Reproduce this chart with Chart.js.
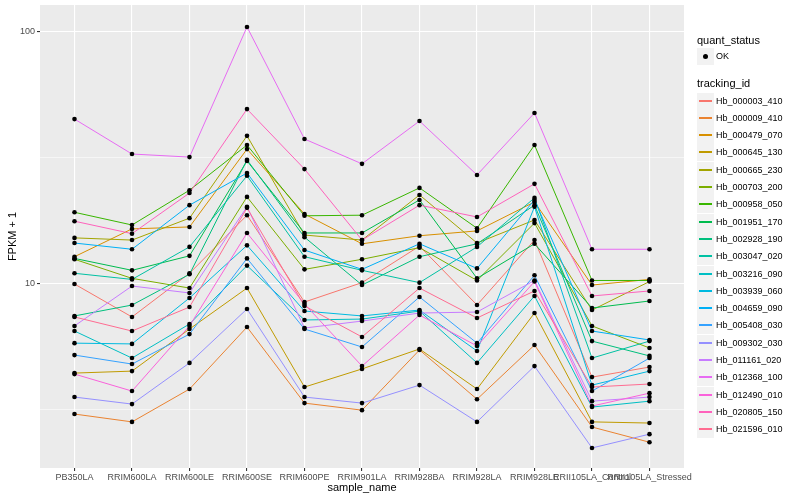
<!DOCTYPE html>
<html>
<head>
<meta charset="utf-8">
<script src="https://cdn.jsdelivr.net/npm/chart.js@4.4.1/dist/chart.umd.min.js"></script>
<style>
  html, body { margin: 0; padding: 0; background: #fff; }
  #wrap { position: relative; width: 800px; height: 500px; font-family: "Liberation Sans", Arial, sans-serif; }
  #chart { position: absolute; left: 0; top: 0; }
  .lg { position: absolute; white-space: nowrap; color: #000; }
  .lg-title { font-size: 11px; line-height: 14px; }
  .lg-text { font-size: 9px; line-height: 13px; }
  .lg-key { position: absolute; width: 17px; height: 17px; background: #F2F2F2; }
</style>
</head>
<body>
<div id="wrap">
  <canvas id="chart" width="800" height="500"></canvas>
  <div id="legend"></div>
</div>
<script>
// sample names along the x axis
const samples = ['PB350LA', 'RRIM600LA', 'RRIM600LE', 'RRIM600SE', 'RRIM600PE', 'RRIM901LA',
  'RRIM928BA', 'RRIM928LA', 'RRIM928LE', 'RRII105LA_Control', 'RRII105LA_Stressed'];

// FPKM + 1 per tracking id, one value per sample
const hb_000003_410 = [9.97, 7.38, 11.0, 18.7, 8.46, 10.1, 14.1, 8.23, 14.9, 4.26, 4.67];
const hb_000009_410 = [3.04, 2.83, 3.82, 6.73, 3.36, 3.15, 5.46, 3.48, 5.71, 2.70, 2.35];
const hb_000479_070 = [12.8, 16.5, 16.8, 34.2, 18.9, 14.4, 15.5, 16.2, 21.1, 9.88, 10.4];
const hb_000645_130 = [4.42, 4.50, 6.61, 9.61, 3.89, 4.59, 5.51, 3.82, 7.65, 2.83, 2.80];
const hb_000665_230 = [15.2, 14.9, 18.2, 38.6, 15.6, 14.9, 22.5, 14.5, 17.9, 7.86, 10.2];
const hb_000703_200 = [12.5, 10.5, 9.61, 22.1, 11.4, 12.5, 13.9, 10.3, 17.4, 6.80, 5.56];
const hb_000958_050 = [19.2, 17.1, 23.5, 35.5, 18.6, 18.7, 24.0, 16.6, 35.5, 10.3, 10.3];
const hb_001951_170 = [12.6, 11.3, 12.9, 30.7, 15.9, 15.9, 21.5, 10.5, 14.4, 8.01, 8.54];
const hb_002928_190 = [7.45, 8.23, 10.9, 31.0, 15.3, 9.88, 12.8, 14.4, 20.5, 5.92, 5.17];
const hb_003047_020 = [11.0, 10.4, 14.0, 26.8, 12.8, 11.3, 10.1, 14.0, 21.9, 5.07, 5.92];
const hb_003216_090 = [6.49, 5.07, 6.92, 11.8, 7.18, 7.24, 7.79, 4.85, 8.94, 3.24, 3.42];
const hb_003939_060 = [5.81, 5.77, 8.78, 14.2, 7.79, 7.45, 7.86, 5.41, 20.2, 3.96, 4.50];
const hb_004659_090 = [14.5, 13.7, 20.5, 27.5, 13.6, 11.4, 14.4, 11.5, 21.5, 6.49, 5.98];
const hb_005408_030 = [5.21, 4.80, 6.31, 12.6, 6.61, 5.61, 8.86, 5.81, 10.8, 3.75, 5.07];
const hb_009302_030 = [3.55, 3.33, 4.85, 7.94, 3.55, 3.36, 3.96, 2.83, 4.71, 2.23, 2.53];
const hb_011161_020 = [6.80, 9.79, 9.19, 20.2, 6.67, 7.11, 7.65, 7.72, 10.3, 3.42, 3.55];
const hb_012368_100 = [45.0, 32.7, 31.8, 104.4, 37.5, 29.9, 44.2, 27.0, 47.6, 13.7, 13.7];
const hb_012490_010 = [4.38, 3.75, 6.80, 15.9, 8.31, 4.71, 7.51, 5.66, 10.2, 3.27, 3.68];
const hb_020805_150 = [17.7, 15.8, 22.9, 49.3, 28.5, 14.9, 20.5, 18.4, 24.9, 8.94, 9.36];
const hb_021596_010 = [7.38, 6.49, 8.08, 20.0, 8.16, 6.15, 9.61, 7.31, 9.36, 3.89, 4.00];

const trackingIds = ['Hb_000003_410', 'Hb_000009_410', 'Hb_000479_070', 'Hb_000645_130', 'Hb_000665_230',
  'Hb_000703_200', 'Hb_000958_050', 'Hb_001951_170', 'Hb_002928_190', 'Hb_003047_020', 'Hb_003216_090',
  'Hb_003939_060', 'Hb_004659_090', 'Hb_005408_030', 'Hb_009302_030', 'Hb_011161_020', 'Hb_012368_100',
  'Hb_012490_010', 'Hb_020805_150', 'Hb_021596_010'];
const seriesValues = [hb_000003_410, hb_000009_410, hb_000479_070, hb_000645_130, hb_000665_230,
  hb_000703_200, hb_000958_050, hb_001951_170, hb_002928_190, hb_003047_020, hb_003216_090,
  hb_003939_060, hb_004659_090, hb_005408_030, hb_009302_030, hb_011161_020, hb_012368_100,
  hb_012490_010, hb_020805_150, hb_021596_010];

const yTickLabels = [10, 100];
const yMinorBreaks = [3.1623, 31.623];

// ggplot hue palette for 20 levels
const colours = ['#F8766D', '#EA8331', '#D89000', '#C09B00', '#A3A500', '#7CAE00', '#39B600', '#00BB4E',
  '#00BF7D', '#00C1A3', '#00BFC4', '#00BAE0', '#00B0F6', '#35A2FF', '#9590FF', '#C77CFF', '#E76BF3',
  '#FA62DB', '#FF62BC', '#FF6C91'];

const FONT = '"Liberation Sans", Arial, sans-serif';
Chart.defaults.font.family = FONT;

const lineSets = trackingIds.map((id, i) => ({
  type: 'line',
  label: id,
  data: seriesValues[i].map((v, j) => ({ x: j, y: v })),
  borderColor: colours[i],
  borderWidth: 1,
  pointRadius: 0,
  fill: false,
  tension: 0,
  order: 100 - i
}));

const pointSet = {
  type: 'scatter',
  label: 'OK',
  data: seriesValues.flatMap(s => s.map((v, j) => ({ x: j, y: v }))),
  backgroundColor: '#000',
  borderWidth: 0,
  pointRadius: 2.3,
  order: 0
};

const panelBg = {
  id: 'panelBg',
  beforeDraw(chart) {
    const { ctx, chartArea: a } = chart;
    ctx.save();
    ctx.fillStyle = '#fff';
    ctx.fillRect(0, 0, chart.width, chart.height);
    ctx.fillStyle = '#EBEBEB';
    ctx.fillRect(a.left, a.top, a.right - a.left, a.bottom - a.top);
    ctx.restore();
  }
};

const isMajor = v => yTickLabels.includes(v);

new Chart(document.getElementById('chart'), {
  type: 'line',
  data: { datasets: [pointSet, ...lineSets] },
  plugins: [panelBg],
  options: {
    responsive: false,
    animation: false,
    devicePixelRatio: 1,
    layout: { padding: { left: 0, right: 116, top: 5, bottom: 0 } },
    plugins: { legend: { display: false }, tooltip: { enabled: false } },
    scales: {
      x: {
        type: 'linear',
        min: -0.6,
        max: samples.length - 0.4,
        afterBuildTicks: s => { s.ticks = samples.map((_, i) => ({ value: i })); },
        afterFit: s => { s.height = 32; s.paddingLeft = 0; s.paddingRight = 0; },
        ticks: {
          callback: v => samples[v],
          autoSkip: false, maxRotation: 0, minRotation: 0,
          color: '#4D4D4D', font: { size: 9 }, padding: 1
        },
        grid: { color: '#fff', lineWidth: 1.1, tickColor: '#333', tickLength: 3 },
        border: { display: false },
        title: { display: true, text: 'sample_name', color: '#000', font: { size: 11 }, padding: { top: 0, bottom: 5 } }
      },
      y: {
        type: 'logarithmic',
        min: 1.857,
        max: 127.6,
        afterBuildTicks: s => {
          s.ticks = [...yMinorBreaks, ...yTickLabels].sort((a, b) => a - b).map(v => ({ value: v }));
        },
        afterFit: s => { s.width = 40; s.paddingTop = 0; s.paddingBottom = 0; },
        ticks: {
          callback: v => isMajor(v) ? String(v) : '',
          autoSkip: false, color: '#4D4D4D', font: { size: 9 }, padding: 2
        },
        grid: {
          color: '#fff',
          lineWidth: c => isMajor(c.tick.value) ? 1.1 : 0.55,
          tickColor: c => isMajor(c.tick.value) ? '#333' : 'rgba(0,0,0,0)',
          tickLength: 3
        },
        border: { display: false },
        title: { display: true, text: 'FPKM + 1', color: '#000', font: { size: 11 }, padding: { top: 6, bottom: 0 } }
      }
    }
  }
});

// legend (two guides, like ggplot)
const lg = [];
lg.push('<div class="lg lg-title" style="left:697px;top:33px">quant_status</div>');
lg.push('<div class="lg-key" style="left:697px;top:48px"><div style="position:absolute;left:6px;top:6px;width:5px;height:5px;border-radius:50%;background:#000"></div></div>');
lg.push('<div class="lg lg-text" style="left:716px;top:50px">OK</div>');
lg.push('<div class="lg lg-title" style="left:697px;top:76px">tracking_id</div>');
trackingIds.forEach((id, i) => {
  const top = Math.round(92.5 + i * 17.3);
  lg.push('<div class="lg-key" style="left:697px;top:' + top + 'px"><div style="position:absolute;left:2px;top:7px;width:13px;height:2px;background:' + colours[i] + '"></div></div>');
  lg.push('<div class="lg lg-text" style="left:716px;top:' + (top + 2) + 'px">' + id + '</div>');
});
document.getElementById('legend').innerHTML = lg.join('');
</script>
</body>
</html>
